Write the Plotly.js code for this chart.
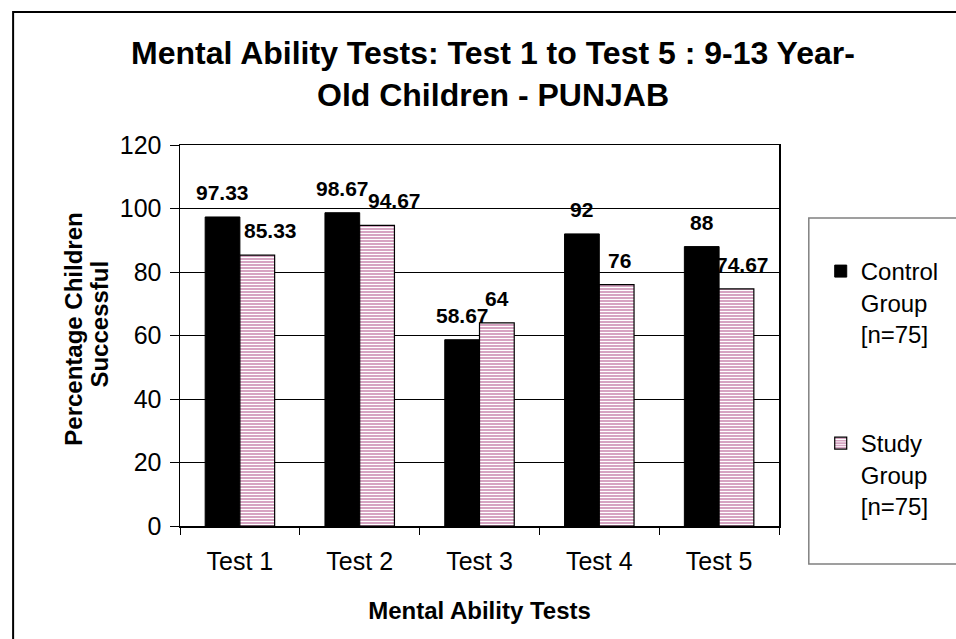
<!DOCTYPE html>
<html>
<head>
<meta charset="utf-8">
<script src="https://cdn.plot.ly/plotly-3.0.1.min.js"></script>
<style>html,body{margin:0;padding:0;background:#fff;}#chart{width:956px;height:639px;}</style>
</head>
<body>
<div id="chart"></div>
<script>
// ---- data ----
const categories = ["Test 1", "Test 2", "Test 3", "Test 4", "Test 5"];
const controlValues = [97.33, 98.67, 58.67, 92, 88];
const studyValues = [85.33, 94.67, 64, 76, 74.67];
const controlName = "Control<br>Group<br>[n=75]";
const studyName = "Study<br>Group<br>[n=75]";
const yTicks = [0, 20, 40, 60, 80, 100, 120];
const yTitleLines = ["Percentage Children", "Successful"];

// ---- style ----
const FONT = "Liberation Sans, Arial, Helvetica, sans-serif";
const PINK = "#d6a4c2";
const L = 180, R = 783, T = 145, B = 526, W = 956, H = 639;
const px2x = p => (p - L) / (R - L);
const px2y = p => (B - p) / (B - T);
const halfBar = 17.5;
// small label nudges (px) to mimic the original's overlap avoidance
const controlNudge = [0, 0, 0, 0, 0];
const studyNudge = [13, 17, 0, 3, 6];

const traceControl = {
  type: "bar", x: categories, y: controlValues, name: controlName,
  marker: {color: "#000000", line: {color: "#000000", width: 1}},
  hoverinfo: "skip"
};
const traceStudy = {
  type: "bar", x: categories, y: studyValues, name: studyName, legend: "legend2",
  marker: {color: PINK, line: {color: "#000000", width: 1.2},
           pattern: {shape: "-", fgcolor: "#ffffff", bgcolor: PINK, size: 3, solidity: 0.34}},
  hoverinfo: "skip"
};

const annotations = [];
categories.forEach((c, i) => {
  annotations.push({x: c, y: controlValues[i], xref: "x", yref: "y", text: String(controlValues[i]),
    showarrow: false, xshift: -halfBar + controlNudge[i], yshift: 11, yanchor: "bottom",
    font: {family: FONT, size: 21, color: "#000", weight: "bold"}});
  annotations.push({x: c, y: studyValues[i], xref: "x", yref: "y", text: String(studyValues[i]),
    showarrow: false, xshift: halfBar + studyNudge[i], yshift: 11, yanchor: "bottom",
    font: {family: FONT, size: 21, color: "#000", weight: "bold"}});
});
// y-axis title, two lines as in the original
const yTitleX = [72, 98];
yTitleLines.forEach((t, i) => {
  annotations.push({xref: "paper", yref: "paper", x: px2x(yTitleX[i]), y: px2y(i === 0 ? 329 : 324),
    xanchor: "center", yanchor: "middle", text: "<b>" + t + "</b>", textangle: -90, showarrow: false,
    font: {family: FONT, size: 24, color: "#000"}});
});

const layout = {
  width: W, height: H,
  margin: {l: L, r: W - R, t: T, b: H - B, pad: 0},
  paper_bgcolor: "#ffffff", plot_bgcolor: "#ffffff",
  font: {family: FONT, color: "#000"},
  title: {text: "<b>Mental Ability Tests: Test 1 to Test 5 : 9-13 Year-<br>Old Children - PUNJAB</b>",
          font: {family: FONT, size: 32, color: "#000"},
          x: 493 / W, xanchor: "center", xref: "container",
          y: 1 - 64 / H, yanchor: "top", yref: "container"},
  barmode: "group", bargap: 0.42, bargroupgap: 0,
  xaxis: {
    type: "category", tickson: "boundaries", ticks: "outside", ticklen: 7, tickcolor: "#000", tickwidth: 1,
    showline: true, linecolor: "#000", linewidth: 1.5, mirror: true, showgrid: false,
    tickfont: {family: FONT, size: 25, color: "#000"}, ticklabelstandoff: 12,
    title: {text: "<b>Mental Ability Tests</b>", font: {family: FONT, size: 24, color: "#000"}, standoff: 28},
    fixedrange: true
  },
  yaxis: {
    range: [0, 120], tickvals: yTicks, ticks: "outside", ticklen: 9, tickcolor: "#000", tickwidth: 1,
    showline: true, linecolor: "#000", linewidth: 1.5, mirror: true,
    showgrid: true, gridcolor: "#000", gridwidth: 1, zeroline: false,
    tickfont: {family: FONT, size: 25, color: "#000"}, ticklabelstandoff: 3,
    fixedrange: true
  },
  showlegend: true,
  legend: {x: px2x(825), xanchor: "left", y: px2y(249), yanchor: "top", valign: "top",
           bgcolor: "rgba(0,0,0,0)", borderwidth: 0, font: {family: FONT, size: 24, color: "#000"}},
  legend2: {x: px2x(825), xanchor: "left", y: px2y(421), yanchor: "top", valign: "top",
           bgcolor: "rgba(0,0,0,0)", borderwidth: 0, font: {family: FONT, size: 24, color: "#000"}},
  shapes: [
    {type: "rect", xref: "paper", yref: "paper", x0: px2x(12), x1: px2x(975), y0: px2y(660), y1: px2y(12),
     line: {color: "#000", width: 2}, fillcolor: "rgba(0,0,0,0)", layer: "below"},
    {type: "rect", xref: "paper", yref: "paper", x0: px2x(813), x1: px2x(975), y0: px2y(564), y1: px2y(218),
     line: {color: "#808080", width: 1.5}, fillcolor: "rgba(0,0,0,0)", layer: "below"}
  ],
  annotations: annotations
};

Plotly.newPlot("chart", [traceControl, traceStudy], layout, {displayModeBar: false, staticPlot: true});
</script>
</body>
</html>
